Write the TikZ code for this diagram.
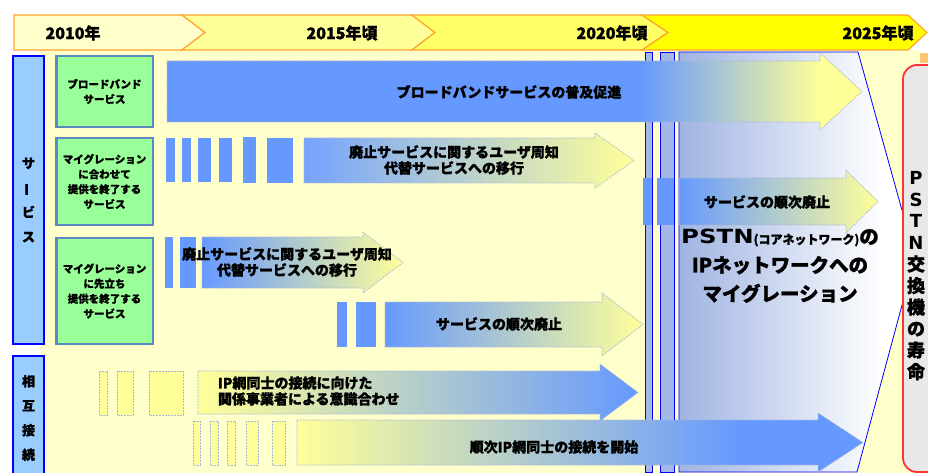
\documentclass[tikz,border=0pt]{standalone}
\usepackage{fontspec}
\usepackage{graphicx}
\setmainfont{Noto Sans CJK JP}[BoldFeatures={FakeBold=1.2}]
\newfontfamily\latinwide{DejaVu Sans}
\definecolor{arrblue}{HTML}{6699FF}
\definecolor{arrylw}{HTML}{FFFF99}
\definecolor{panelbg}{HTML}{FFFFCC}
\definecolor{grn}{HTML}{99FF99}
\definecolor{grnline}{HTML}{5B88C0}
\definecolor{catfill}{HTML}{99CCFF}
\definecolor{catline}{HTML}{0000FF}
\definecolor{barfill}{HTML}{A3B8E6}
\definecolor{pstnfill}{HTML}{E8E8E8}
\definecolor{pstnline}{HTML}{FF3333}
\definecolor{hdrline}{HTML}{FFA530}
\definecolor{hdra}{HTML}{FFFFCC}
\definecolor{hdrb}{HTML}{FFFF99}
\definecolor{hdrc}{HTML}{FFFF66}
\definecolor{hdrd}{HTML}{FFFF00}
\definecolor{dashline}{HTML}{A8B8D8}
\definecolor{panelblue}{HTML}{A0B4E2}
\definecolor{orsq}{HTML}{FFC870}
\pgfdeclarehorizontalshading{bbshade}{100bp}{color(0bp)=(arrblue); color(25bp)=(arrblue); color(59bp)=(arrblue); color(72bp)=(arrylw); color(100bp)=(arrylw)}
\pgfdeclarehorizontalshading{connshade}{100bp}{color(0bp)=(arrylw); color(25bp)=(arrylw); color(64bp)=(arrblue); color(100bp)=(arrblue)}
\pgfdeclarehorizontalshading{panelshade}{100bp}{color(0bp)=(panelblue); color(25bp)=(panelblue); color(68bp)=(white); color(100bp)=(white)}
\newcommand{\myarrow}[7]{\path[#1] (#2,#3) -- (#5,#3) -- (#5,#3-#7) -- (#6,{(#3+#4)/2}) -- (#5,#4+#7) -- (#5,#4) -- (#2,#4) -- cycle;}
\newcommand{\wl}[1]{{\latinwide\bfseries #1}}
\begin{document}
\begin{tikzpicture}[x=1pt,y=-1pt,
  every node/.style={inner sep=0pt, outer sep=0pt},
  hdr/.style={draw=hdrline, line width=1.2pt},
  yeartxt/.style={font=\bfseries\fontsize{16}{18}\selectfont},
  catbox/.style={draw=catline, fill=catfill, line width=2.5pt, minimum width=31, align=center, font=\bfseries\fontsize{13}{24.5}\selectfont},
  grnbox/.style={draw=grnline, fill=grn, line width=2.5pt, minimum width=96.5, align=center, font=\bfseries\fontsize{10.5}{15}\selectfont},
  barstyle/.style={draw=catline, fill=barfill, line width=0.8pt},
  solidbar/.style={fill=arrblue},
  ylwbar/.style={fill=arrylw, draw=dashline, line width=0.6pt, dash pattern=on 2pt off 1pt},
  arrowline/.style={draw=dashline, line width=0.6pt, dash pattern=on 2pt off 1pt},
  arrtxt/.style={font=\bfseries\fontsize{14}{16}\selectfont, align=center},
  bigtxt/.style={font=\bfseries\fontsize{19.5}{28.5}\selectfont, align=center},
  pstnbox/.style={draw=pstnline, fill=pstnfill, line width=1.8pt, rounded corners=14pt},
  pstntxt/.style={font=\bfseries\fontsize{18}{21.5}\selectfont, align=center}
]
\useasboundingbox (0,0) rectangle (928,473);
\fill[white] (0,0) rectangle (928,473);
% background panel
\fill[panelbg] (40,50) rectangle (920,473);
\fill[orsq] (920,53) rectangle (928,63);
% header
\path[hdr, fill=hdra] (14,15) -- (182,15) -- (205,32.5) -- (182,50) -- (14,50) -- cycle;
\path[hdr, fill=hdrb] (182,15) -- (412,15) -- (435,32.5) -- (412,50) -- (182,50) -- (205,32.5) -- cycle;
\path[hdr, fill=hdrc] (412,15) -- (642,15) -- (668,32.5) -- (642,50) -- (412,50) -- (435,32.5) -- cycle;
\path[hdr, fill=hdrd] (642,15) -- (908,15) -- (927,32.5) -- (908,50) -- (642,50) -- (668,32.5) -- cycle;
\node[yeartxt] (y2010) at (73,33) {2010年};
\node[yeartxt] (y2015) at (342,33) {2015年頃};
\node[yeartxt] (y2020) at (612,33) {2020年頃};
\node[yeartxt] (y2025) at (878,33) {2025年頃};
% category boxes
\node[catbox, minimum height=288] (svc) at (28.5,200) {サ\\\rotatebox[origin=c]{90}{ー}\\ビ\\ス};
\node[catbox, minimum height=124] (ic) at (28.5,418) {相\\互\\接\\続};
% green boxes
\node[grnbox, minimum height=71] (g1) at (104.5,91.5) {ブロードバンド\\サービス};
\node[grnbox, minimum height=87] (g2) at (104.5,181.5) {マイグレーション\\に合わせて\\提供を終了する\\サービス};
\node[grnbox, minimum height=106] (g3) at (104.5,291) {マイグレーション\\に先立ち\\提供を終了する\\サービス};
% vertical bars and migration panel
\draw[barstyle] (645,52) rectangle (652,472);
\draw[barstyle] (660,52) rectangle (674,472);
\shade[shading=panelshade, draw=catline, line width=0.8pt] (679,52) -- (858,52) -- (915,257) -- (857,472) -- (679,472) -- cycle;
% row 1
\myarrow{shade, shading=bbshade, arrowline}{167}{61}{122}{820}{862}{8}
\node[arrtxt] (t1) at (509,92) {ブロードバンドサービスの普及促進};
% row 2
\fill[solidbar] (166,138) rectangle (175,182);
\fill[solidbar] (182,138) rectangle (191,182);
\fill[solidbar] (198,138) rectangle (211,182);
\fill[solidbar] (219,138) rectangle (232,182);
\fill[solidbar] (243,137) rectangle (256,183);
\fill[solidbar] (267,138) rectangle (293,183);
\myarrow{left color=arrblue!90!white, right color=arrylw, arrowline}{304}{138}{183}{595}{634}{5}
\node[arrtxt] (t2a) at (454,160) {廃止サービスに関するユーザ周知\\代替サービスへの移行};
\fill[solidbar] (643,178) rectangle (652,225);
\fill[solidbar] (657,178) rectangle (674,225);
\myarrow{left color=arrblue, right color=arrylw, arrowline}{679}{178}{225}{846}{878}{8}
\node[arrtxt] (t2b) at (767,202) {サービスの順次廃止};
% row 3
\fill[solidbar] (165,237) rectangle (173,288);
\fill[solidbar] (180,237) rectangle (196,288);
\myarrow{left color=arrblue, right color=arrylw, arrowline}{202}{237}{288}{363}{403}{5}
\node[arrtxt] (t3a) at (287,262) {廃止サービスに関するユーザ周知\\代替サービスへの移行};
\fill[solidbar] (337,302) rectangle (347,347);
\fill[solidbar] (356,302) rectangle (376,347);
\myarrow{left color=arrblue, right color=arrylw, arrowline}{385}{302}{347}{602}{643}{9}
\node[arrtxt] (t3b) at (499,324) {サービスの順次廃止};
% row 4
\draw[ylwbar] (99,371) rectangle (107,415);
\draw[ylwbar] (117,371) rectangle (133,415);
\draw[ylwbar] (149,371) rectangle (183,415);
\myarrow{left color=arrylw, right color=arrblue, arrowline}{198}{371}{414}{600}{638}{7}
\node[arrtxt, align=left, anchor=west] (t4) at (218,391) {IP網同士の接続に向けた\\関係事業者による意識合わせ};
% row 5
\draw[ylwbar] (193,421) rectangle (200,465);
\draw[ylwbar] (210,421) rectangle (218,465);
\draw[ylwbar] (227,421) rectangle (235,465);
\draw[ylwbar] (246,421) rectangle (258,465);
\draw[ylwbar] (272,421) rectangle (285,465);
\myarrow{shade, shading=connshade, arrowline}{297}{420}{465}{818}{863}{7}
\node[arrtxt] (t5) at (554,447) {順次IP網同士の接続を開始};
% big text
\node[bigtxt] (big) at (780,266) {{\latinwide\scalebox{1.25}[1]{PSTN}}{\fontsize{12}{14}\selectfont (コアネットワーク)}の\\IPネットワークへの\\マイグレーション};
% PSTN box
\draw[pstnbox] (903,65) rectangle (960,472);
\node[pstntxt] (pstn) at (916,276) {\wl{P}\\\wl{S}\\\wl{T}\\\wl{N}\\交\\換\\機\\の\\寿\\命};
\end{tikzpicture}
\end{document}
